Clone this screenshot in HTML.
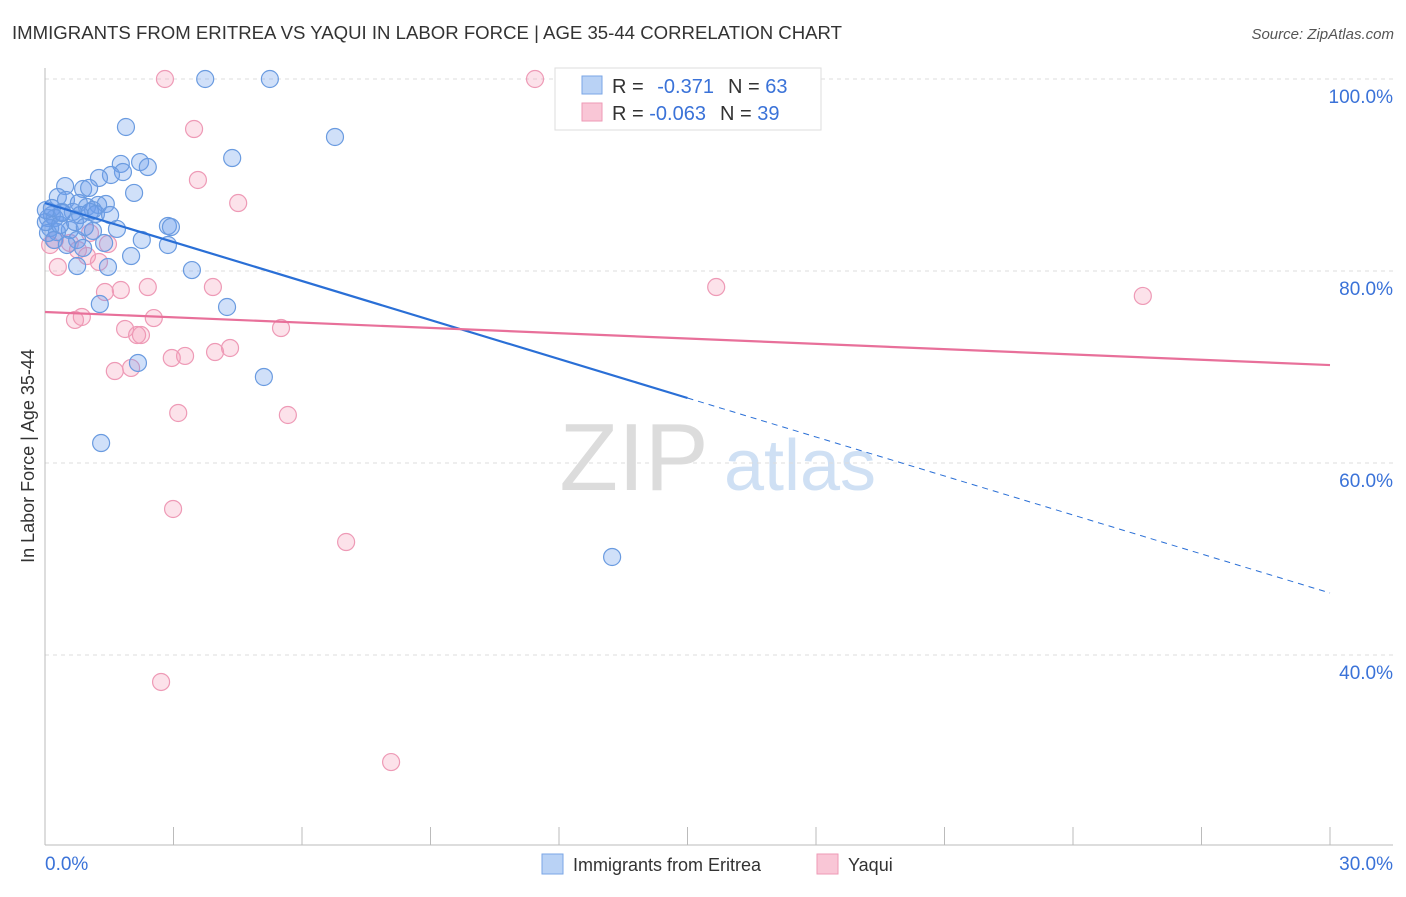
<!DOCTYPE html>
<html><head><meta charset="utf-8"><style>
body{margin:0;background:#fff;font-family:"Liberation Sans",sans-serif}
svg text{font-family:"Liberation Sans",sans-serif}
</style></head><body>
<svg id="chart" width="1406" height="892" xmlns="http://www.w3.org/2000/svg">
<text x="12" y="39" font-size="18.6" fill="#333">IMMIGRANTS FROM ERITREA VS YAQUI IN LABOR FORCE | AGE 35-44 CORRELATION CHART</text>
<text x="1394" y="39" font-size="15" fill="#555" font-style="italic" text-anchor="end">Source: ZipAtlas.com</text>
<g>
<text x="634" y="490" font-size="96" fill="#dcdcdc" font-family="Liberation Serif" text-anchor="middle">ZIP</text>
<text x="800" y="490" font-size="72" fill="#cfe0f4" text-anchor="middle">atlas</text>
</g>
<g id="grid"></g>
<g id="axes"></g>
<g id="pts"></g>
<g id="trend"></g>
<text transform="translate(34,456) rotate(-90)" font-size="18" fill="#333" text-anchor="middle">In Labor Force | Age 35-44</text>
<g>
<rect x="555" y="68" width="266" height="62" fill="#fff" stroke="#ddd"/>
<rect x="582" y="76" width="20" height="18" fill="#b9d2f5" stroke="#7aa6e6"/>
<rect x="582" y="103" width="20" height="18" fill="#f9c6d6" stroke="#ee9ab6"/>
<text x="612" y="93" font-size="20" fill="#333">R = <tspan fill="#3a72d8" dx="8">-0.371</tspan><tspan dx="14" fill="#333">N = </tspan><tspan fill="#3a72d8">63</tspan></text>
<text x="612" y="120" font-size="20" fill="#333">R = <tspan fill="#3a72d8">-0.063</tspan><tspan dx="14" fill="#333">N = </tspan><tspan fill="#3a72d8">39</tspan></text>
</g>
<g>
<rect x="542" y="854" width="21" height="20" fill="#b9d2f5" stroke="#7aa6e6"/>
<text x="573" y="871" font-size="18" fill="#333">Immigrants from Eritrea</text>
<rect x="817" y="854" width="21" height="20" fill="#f9c6d6" stroke="#ee9ab6"/>
<text x="848" y="871" font-size="18" fill="#333">Yaqui</text>
</g>
</svg>
<script>
const blueX=[3.74,5.25,1.89,6.77,4.37,1.77,2.22,2.40,1.82,1.54,1.26,0.47,0.89,1.03,2.08,0.30,0.49,0.79,1.42,1.24,0.98,1.12,0.65,0.40,0.16,0.07,0.23,0.82,1.05,2.87,2.94,1.68,1.12,0.58,0.28,0.12,0.07,0.75,2.26,2.87,1.38,0.89,2.01,0.75,1.47,3.43,1.28,4.25,2.17,5.11,1.31,13.24,0.02,0.35,0.70,0.93,0.21,0.51,1.19,1.52,0.02,0.16,0.40];
const blueY=[100,100,95.0,93.96,91.77,91.15,91.35,90.83,90.31,90.0,89.69,88.85,88.54,88.65,88.13,87.71,87.4,87.08,86.98,86.88,86.67,86.35,86.15,86.15,85.83,85.52,85.52,85.83,86.15,84.69,84.58,84.38,84.17,84.27,84.06,84.48,83.96,83.23,83.23,82.71,82.92,82.40,81.56,80.52,80.42,80.10,76.56,76.25,70.42,68.96,62.08,50.21,85.1,84.79,85.1,84.58,83.23,82.71,85.94,85.83,86.35,86.56,86.04];
const pinkX=[2.80,11.44,3.48,3.57,4.51,0.23,0.12,0.58,1.05,1.47,0.77,0.98,1.26,0.30,15.67,25.63,2.40,1.77,1.40,3.92,0.86,0.70,2.54,1.87,5.51,2.15,2.24,4.32,3.97,2.96,3.27,2.01,1.63,3.11,5.67,2.99,7.03,2.71,8.08];
const pinkY=[100,100,94.79,89.48,87.08,83.23,82.71,82.92,83.96,82.81,82.19,81.56,80.94,80.42,78.33,77.4,78.33,78.02,77.81,78.33,75.21,74.9,75.1,73.96,74.06,73.33,73.33,71.98,71.56,70.94,71.15,69.9,69.58,65.21,65.0,55.21,51.77,37.19,28.85];
const blueTrend=[87.08,46.46];
const pinkTrend=[75.73,70.2];
const yTicks=[100,80,60,40];
const xTickLabels=["0.0%","30.0%"];
const NS="http://www.w3.org/2000/svg";
const sx=v=>45+v/30*1285;
const sy=v=>79+(100-v)*9.6;
function mk(tag,attrs,parent){const e=document.createElementNS(NS,tag);for(const k in attrs)e.setAttribute(k,attrs[k]);parent.appendChild(e);return e;}
const grid=document.getElementById('grid'),axes=document.getElementById('axes'),pts=document.getElementById('pts'),trend=document.getElementById('trend');
yTicks.forEach(t=>{
 const l=mk('line',{x1:45,x2:1393,y1:sy(t),y2:sy(t),stroke:'#ddd','stroke-dasharray':'4,4'},grid);
 
 
 const tx=mk('text',{x:1393,y:sy(t)+24,'font-size':19,fill:'#3a72d8','text-anchor':'end'},grid);
 tx.textContent=t.toFixed(1)+'%';
 
 
});
let a=mk('line',{x1:45,x2:45,y1:68,y2:845,stroke:'#bbb'},axes);


a=mk('line',{x1:45,x2:1393,y1:845,y2:845,stroke:'#bbb'},axes);


for(let i=0;i<=10;i++){const t=mk('line',{x1:sx(i*3),x2:sx(i*3),y1:827,y2:845,stroke:'#bbb'},axes);
 
 }
[[0,'start',45],[1,'end',1393]].forEach(([i,anc,x])=>{const t=mk('text',{x:x,y:870,'font-size':19,fill:'#3a72d8','text-anchor':anc},axes);t.textContent=xTickLabels[i];
 
 });
function dots(X,Y,fill,stroke,name){X.forEach((x,i)=>{const c=mk('circle',{cx:sx(x),cy:sy(Y[i]),r:8.5,fill:fill,stroke:stroke,'stroke-width':1.2},pts);
 
 });}
dots(pinkX,pinkY,'rgba(245,150,180,0.28)','#ee9ab6','yaqui-point');
dots(blueX,blueY,'rgba(110,160,235,0.32)','#6a9be0','eritrea-point');
const bAt=x=>blueTrend[0]+(blueTrend[1]-blueTrend[0])*x/30;
let tl=mk('line',{x1:sx(0),y1:sy(bAt(0)),x2:sx(15),y2:sy(bAt(15)),stroke:'#2a6fd6','stroke-width':2.2},trend);


tl=mk('line',{x1:sx(15),y1:sy(bAt(15)),x2:sx(30),y2:sy(bAt(30)),stroke:'#2a6fd6','stroke-width':1,'stroke-dasharray':'6,5'},trend);


tl=mk('line',{x1:sx(0),y1:sy(pinkTrend[0]),x2:sx(30),y2:sy(pinkTrend[1]),stroke:'#e8709a','stroke-width':2.2},trend);


</script>
</body></html>
